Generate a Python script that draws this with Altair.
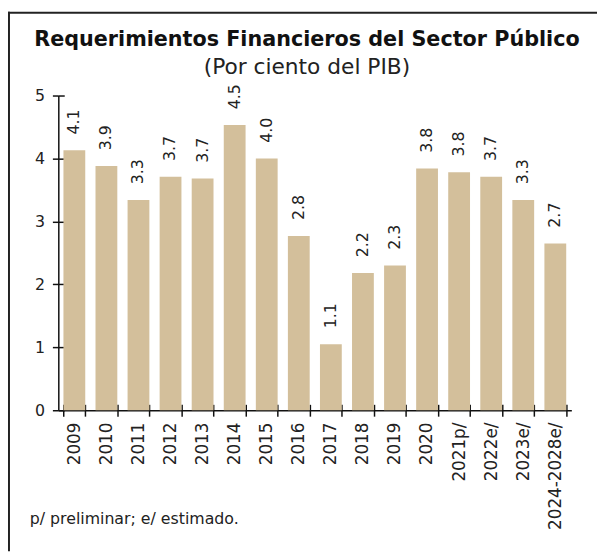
import altair as alt
import pandas as pd

categories = ["2009", "2010", "2011", "2012", "2013", "2014", "2015", "2016",
              "2017", "2018", "2019", "2020", "2021p/", "2022e/", "2023e/", "2024-2028e/"]
values = [4.13, 3.88, 3.34, 3.71, 3.68, 4.53, 4.00, 2.77,
          1.05, 2.18, 2.30, 3.84, 3.78, 3.71, 3.34, 2.65]
value_labels = ["4.1", "3.9", "3.3", "3.7", "3.7", "4.5", "4.0", "2.8",
                "1.1", "2.2", "2.3", "3.8", "3.8", "3.7", "3.3", "2.7"]
y_ticks = [0, 1, 2, 3, 4, 5]

title_text = "Requerimientos Financieros del Sector Público"
subtitle_text = "(Por ciento del PIB)"
footnote_text = "p/ preliminar;  e/ estimado."

df = pd.DataFrame({"cat": categories, "val": values, "lab": value_labels})

W, H = 520, 319
PAD_L, PAD_T = 51, 85
TOTAL_W, TOTAL_H = 597, 547

xscale = alt.Scale(domain=categories, paddingInner=0.32, paddingOuter=0.16)
yscale = alt.Scale(domain=[0, 5], nice=False)

base = alt.Chart(df)

bars = base.mark_bar(color="#D3BF9B").encode(
    x=alt.X("cat:N", sort=categories, scale=xscale, title=None,
            axis=alt.Axis(labelAngle=-90, labelAlign="right", labelBaseline="middle",
                          labelFont="DejaVu Sans", labelFontSize=17, labelColor="#222",
                          labelPadding=6, tickBand="extent", tickSize=6, tickColor="#111",
                          domainColor="#111", tickWidth=1.5, domainWidth=1.5)),
    y=alt.Y("val:Q", scale=yscale, title=None,
            axis=alt.Axis(values=y_ticks, labelFont="DejaVu Sans", labelFontSize=16,
                          labelColor="#222", labelPadding=8, tickSize=6, tickColor="#111",
                          domainColor="#111", grid=False, tickWidth=1.5, domainWidth=1.5)),
)

# inner half of the crossing ticks
inner = base.mark_bar(opacity=0).encode(
    x=alt.X("cat:N", sort=categories, scale=xscale, title=None,
            axis=alt.Axis(orient="bottom", offset=-6, labels=False, domain=False,
                          tickBand="extent", tickSize=6, tickColor="#111", tickWidth=1.5)),
    y=alt.Y("val:Q", scale=yscale, title=None,
            axis=alt.Axis(orient="left", offset=-6, values=y_ticks, labels=False,
                          domain=False, grid=False, tickSize=6, tickColor="#111", tickWidth=1.5)),
)

texts = base.mark_text(angle=270, align="left", baseline="middle", dx=16,
                       font="DejaVu Sans", fontSize=16, color="#222").encode(
    x=alt.X("cat:N", sort=categories, scale=xscale, axis=None),
    y=alt.Y("val:Q", scale=yscale, axis=None),
    text="lab:N",
)

frame_left = alt.Chart(pd.DataFrame({"a": [0]})).mark_rule(color="#222", strokeWidth=2).encode(
    x=alt.value(-PAD_L + 1), y=alt.value(-PAD_T), y2=alt.value(TOTAL_H - PAD_T))
frame_top = alt.Chart(pd.DataFrame({"a": [0]})).mark_rule(color="#222", strokeWidth=2).encode(
    y=alt.value(-PAD_T + 1), x=alt.value(-PAD_L), x2=alt.value(TOTAL_W - PAD_L))

title_mark = alt.Chart(pd.DataFrame({"t": [title_text]})).mark_text(
    font="DejaVu Sans", fontWeight="bold", fontSize=21, color="#111", align="center", baseline="alphabetic").encode(
    x=alt.value(311 - 59), y=alt.value(43 - 93), text="t:N")
subtitle_mark = alt.Chart(pd.DataFrame({"t": [subtitle_text]})).mark_text(
    font="DejaVu Sans", fontSize=22, color="#222", align="center", baseline="alphabetic").encode(
    x=alt.value(311 - 59), y=alt.value(71 - 93), text="t:N")
foot_mark = alt.Chart(pd.DataFrame({"t": [footnote_text]})).mark_text(
    font="DejaVu Sans", fontSize=16, color="#222", align="left", baseline="middle").encode(
    x=alt.value(30 - 59), y=alt.value(522 - 93), text="t:N")

chart = alt.layer(bars, inner, texts, frame_left, frame_top, title_mark, subtitle_mark, foot_mark).resolve_axis(
    x="independent", y="independent"
).properties(
    width=W, height=H,
    autosize=alt.AutoSizeParams(type="none"),
    padding={"left": PAD_L, "top": PAD_T, "right": TOTAL_W - PAD_L - W, "bottom": TOTAL_H - PAD_T - H},
).configure_view(stroke=None)

chart.save("out.html", embed_options={"renderer": "svg", "actions": False})
